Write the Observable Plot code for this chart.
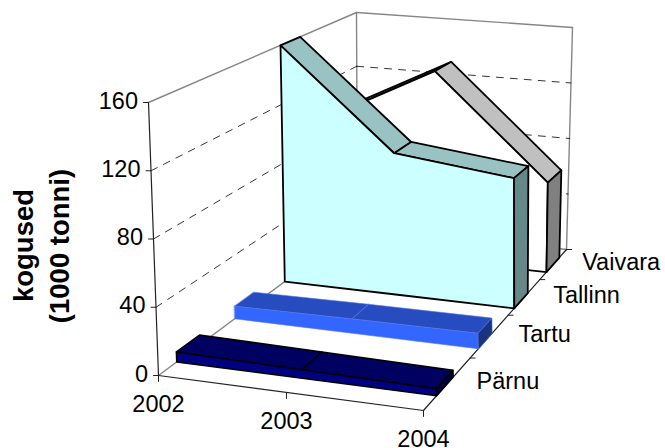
<!DOCTYPE html>
<html>
<head>
<meta charset="utf-8">
<script src="https://cdn.jsdelivr.net/npm/d3@7"></script>
<script src="https://cdn.jsdelivr.net/npm/@observablehq/plot@0.6"></script>
<style>
html,body{margin:0;padding:0;background:#fff}
svg{display:block}
</style>
</head>
<body>
<div id="chart"></div>
<script>
const years = ["2002", "2003", "2004"];
const yearPositions = [0, 0.5, 1];
const sites = ["Pärnu", "Tartu", "Tallinn", "Vaivara"];
const parnu = [6, 5, 4];
const tartu = [8, 9, 9.5];
const tallinn = [160, 94, 85];
const vaivara = [94, 133, 62];
const valueTicks = [0, 40, 80, 120, 160];
const valueMax = 160;
const axisTitle = ["kogused", "(1000 tonni)"];

// 3D box of the chart, seen in perspective (image pixels of the 8 corners)
const box = {
  fl0: [158, 375], fr0: [423, 410], bl0: [357, 227], br0: [566, 249],
  fl1: [148, 102], fr1: [411, 125], bl1: [356, 12], br1: [572, 27]
};
const warpT = t => t * (1 - 0.066) / (1 - 0.066 * t);
const warpD = d => d * 1.45 / (1 + 0.45 * d);
const mix = (a, b, u) => a + (b - a) * u;
const pair = (a, b, u) => [mix(a[0], b[0], u), mix(a[1], b[1], u)];
function project(t, d, value) {
  const tt = warpT(t), dd = warpD(d), vv = value / valueMax;
  const f0 = pair(box.fl0, box.fr0, tt), b0 = pair(box.bl0, box.br0, tt);
  const f1 = pair(box.fl1, box.fr1, tt), b1 = pair(box.bl1, box.br1, tt);
  return pair(pair(f0, b0, dd), pair(f1, b1, dd), vv);
}
const P = (t, d, v) => { const p = project(t, d, v); return {x: p[0], y: p[1]}; };

const face = (pts, fill, stroke, strokeWidth) =>
  Plot.line(pts, {x: "x", y: "y", curve: "linear-closed", fill, stroke, strokeWidth, strokeLinejoin: "round"});
const seg = (a, b, stroke, strokeWidth, dash) =>
  Plot.line([a, b], {x: "x", y: "y", stroke, strokeWidth, strokeDasharray: dash});

const series = [
  {values: vaivara, d: [0.809, 0.929], front: "#ffffff", top: "#c0c0c0", side: "#808080", stroke: "#000", w: 1.8},
  {values: tallinn, d: [0.545, 0.650], front: "#ccffff", top: "#99c2c2", side: "#668888", stroke: "#000", w: 1.8},
  {values: tartu,   d: [0.300, 0.389], front: "#3366ff", top: "#264cbf", side: "#1a3380", stroke: "#4f74e6", w: 0.6},
  {values: parnu,   d: [0.065, 0.153], front: "#000080", top: "#000060", side: "#000040", stroke: "#000", w: 1.5}
];

function seriesMarks(s) {
  const [df, db] = s.d, v = s.values, out = [];
  for (let i = 0; i < v.length - 1; i++) {
    const a = yearPositions[i], b = yearPositions[i + 1];
    out.push(face([P(a, df, v[i]), P(b, df, v[i + 1]), P(b, db, v[i + 1]), P(a, db, v[i])], s.top, s.stroke, s.w));
  }
  const frontPts = [
    ...yearPositions.map((t, i) => P(t, df, v[i])),
    ...yearPositions.slice().reverse().map(t => P(t, df, 0))
  ];
  out.push(face(frontPts, s.front, s.stroke, s.w));
  const e = v[v.length - 1];
  out.push(face([P(1, df, 0), P(1, df, e), P(1, db, e), P(1, db, 0)], s.side, s.stroke, s.w));
  return out;
}

const grey = "#868686", fontFamily = "Liberation Sans, Arial, sans-serif", tickSize = 23.5;
const marks = [];
// walls and floor
marks.push(seg(P(0, 0, valueMax), P(0, 1, valueMax), grey, 1.4));
marks.push(seg(P(0, 1, valueMax), P(1, 1, valueMax), grey, 1.4));
marks.push(seg(P(0, 1, 0), P(0, 1, valueMax), grey, 1.4));
marks.push(seg(P(1, 1, 0), P(1, 1, valueMax), grey, 1.4));
marks.push(seg(P(0, 0, 0), P(0, 1, 0), grey, 1.4));
marks.push(seg(P(0, 1, 0), P(1, 1, 0), grey, 1.4));
// gridlines
for (const v of valueTicks.slice(1, -1)) {
  marks.push(seg(P(0, 0, v), P(0, 1, v), "#000", 0.8, "7,7"));
  marks.push(seg(P(0, 1, v), P(1, 1, v), "#000", 0.8, "7,7"));
}
// axes
marks.push(seg(P(0, 0, 0), P(0, 0, valueMax), "#222", 1.2));
marks.push(seg(P(0, 0, 0), P(1, 0, 0), "#222", 1.2));
marks.push(seg(P(1, 0, 0), P(1, 1, 0), "#222", 1.2));
// series, back to front
for (const s of series) marks.push(...seriesMarks(s));
// ticks
const tickRows = [];
for (const v of valueTicks) { const a = P(0, 0, v); tickRows.push([a, {x: a.x - 5, y: a.y}]); }
for (const t of yearPositions) { const a = P(t, 0, 0); tickRows.push([a, {x: a.x, y: a.y + 6}]); }
sites.forEach((_, i) => { const a = P(1, (i + 1) / sites.length, 0); tickRows.push([a, {x: a.x + 5, y: a.y}]); });
for (const [a, b] of tickRows) marks.push(seg(a, b, "#222", 1));
// labels
const textOpts = {x: "x", y: "y", text: "text", fontSize: tickSize, fontFamily, fill: "#000", lineAnchor: "middle"};
marks.push(Plot.text(valueTicks.map(v => { const a = P(0, 0, v); return {x: a.x - 10.5, y: a.y - 1.5, text: String(v)}; }), {...textOpts, textAnchor: "end"}));
marks.push(Plot.text(years.map((yr, i) => { const a = P(yearPositions[i], 0, 0); return {x: a.x, y: a.y + 29, text: yr}; }), {...textOpts, textAnchor: "middle"}));
marks.push(Plot.text(sites.map((s, i) => { const a = P(1, (i + 0.5) / sites.length, 0); return {x: a.x + 28.5, y: a.y - 1, text: s}; }), {...textOpts, textAnchor: "start"}));
marks.push(Plot.text([{x: 24, y: 245, text: axisTitle[0]}, {x: 60, y: 245.5, text: axisTitle[1]}], {...textOpts, fontSize: 27.5, fontWeight: "bold", rotate: -90, textAnchor: "middle"}));

const chart = Plot.plot({
  width: 665, height: 448, margin: 0,
  x: {domain: [0, 665], range: [0, 665], axis: null},
  y: {domain: [0, 448], range: [0, 448], axis: null},
  style: {background: "#fff", fontFamily},
  marks
});
document.getElementById("chart").append(chart);
</script>
</body>
</html>
